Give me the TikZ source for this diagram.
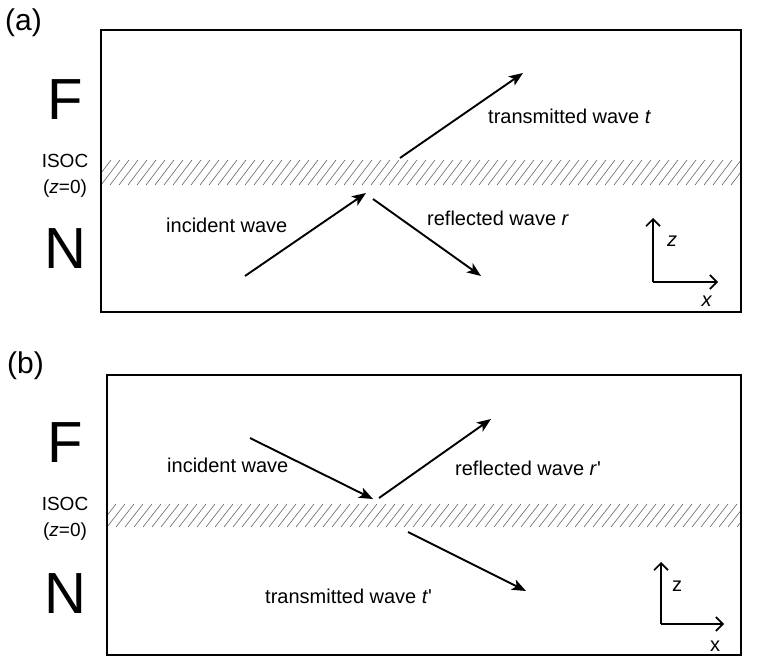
\documentclass[tikz,border=0pt]{standalone}
\usepackage{fontspec}
\setmainfont{Liberation Sans}
\usetikzlibrary{arrows.meta, positioning}

\tikzset{
  frame/.style={draw, line width=1.5pt},
  hatchline/.style={draw=black!60, line width=0.6pt},
  wave/.style={line width=1.9pt, -{Stealth[length=14pt, width=11pt, inset=3.5pt]}},
  axis/.style={line width=1.7pt, -{Straight Barb[length=7pt, width=14pt, line width=1.7pt]}},
  panel/.style={font=\fontsize{30}{32}\selectfont, inner sep=0pt, anchor=base west},
  medium/.style={font=\fontsize{58}{60}\selectfont, inner sep=0pt, anchor=base},
  side/.style={font=\fontsize{19}{21}\selectfont, inner sep=0pt, anchor=base},
  lbl/.style={font=\fontsize{20}{22}\selectfont, inner sep=0pt, anchor=base west},
}

\begin{document}
\begin{tikzpicture}[x=1pt, y=-1pt]
    \useasboundingbox (0,0) rectangle (762,666);

    % Panel (a)
    \node [panel] (labA) at (5,31) {(a)};%
    \coordinate (boxAnw) at (101,30);%
    \coordinate (boxAse) at (741,312);%
    \begin{scope}
      \clip (101,160) rectangle (741,185);%
      \foreach \x in {92,101,...,750} \draw [hatchline] (\x,185) -- ++(19,-25);%
    \end{scope}
    \draw [frame] (boxAnw) rectangle (boxAse);%
    \node [medium] (fA) at (65,119) {F};%
    \node [medium] (nA) at (65,268) {N};%
    \node [side] (isocA) at (65,167) {ISOC};%
    \node [side] (zeroA) at (65,193) {(\textit{z}=0)};%

    % waves (a)
    \coordinate (incAs) at (245,276);%
    \coordinate (incAe) at (366,193);%
    \coordinate (refAs) at (373,199);%
    \coordinate (refAe) at (481,276);%
    \coordinate (traAs) at (400,158);%
    \coordinate (traAe) at (523,73);%
    \draw [wave] (incAs) -- (incAe);%
    \draw [wave] (refAs) -- (refAe);%
    \draw [wave] (traAs) -- (traAe);%
    \node [lbl] (incA) at (166,232) {incident wave};%
    \node [lbl] (refA) at (427,225) {reflected wave \textit{r}};%
    \node [lbl] (traA) at (488,123) {transmitted wave \textit{t}};%

    % axes (a)
    \coordinate (oA) at (653,282);%
    \coordinate (zA) at (653,218);%
    \coordinate (xA) at (718,282);%
    \draw [axis] (oA) -- (zA);%
    \draw [axis] (oA) -- (xA);%
    \node [lbl] (zlabA) at (667,246) {\textit{z}};%
    \node [lbl, anchor=base] (xlabA) at (707,306) {\textit{x}};%

    % Panel (b)
    \node [panel] (labB) at (7,373) {(b)};%
    \coordinate (boxBnw) at (107,375);%
    \coordinate (boxBse) at (741,655);%
    \begin{scope}
      \clip (107,504) rectangle (741,527);%
      \foreach \x in {98,107,...,750} \draw [hatchline] (\x,527) -- ++(18,-23);%
    \end{scope}
    \draw [frame] (boxBnw) rectangle (boxBse);%
    \node [medium] (fB) at (65,462) {F};%
    \node [medium] (nB) at (65,613) {N};%
    \node [side] (isocB) at (65,510) {ISOC};%
    \node [side] (zeroB) at (65,536) {(\textit{z}=0)};%

    % waves (b)
    \coordinate (incBs) at (250,438);%
    \coordinate (incBe) at (373,499);%
    \coordinate (refBs) at (379,498);%
    \coordinate (refBe) at (491,419);%
    \coordinate (traBs) at (408,532);%
    \coordinate (traBe) at (526,591);%
    \draw [wave] (incBs) -- (incBe);%
    \draw [wave] (refBs) -- (refBe);%
    \draw [wave] (traBs) -- (traBe);%
    \node [lbl] (incB) at (167,472) {incident wave};%
    \node [lbl] (refB) at (455,475) {reflected wave \textit{r}\textquotesingle};%
    \node [lbl] (traB) at (265,603) {transmitted wave \textit{t}\textquotesingle};%

    % axes (b)
    \coordinate (oB) at (661,624);%
    \coordinate (zB) at (661,562);%
    \coordinate (xB) at (724,624);%
    \draw [axis] (oB) -- (zB);%
    \draw [axis] (oB) -- (xB);%
    \node [lbl] (zlabB) at (672,591) {z};%
    \node [lbl, anchor=base] (xlabB) at (715,651) {x};%
\end{tikzpicture}
\end{document}
